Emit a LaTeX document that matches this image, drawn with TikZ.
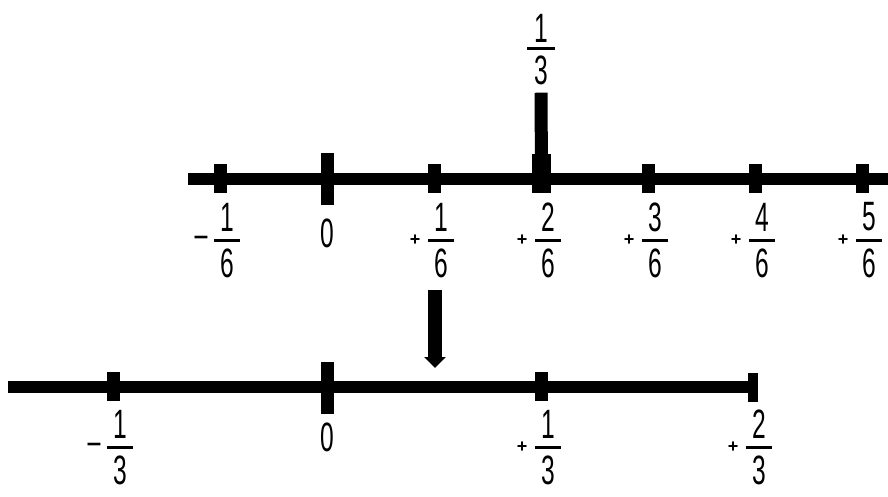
\documentclass[tikz,border=0pt]{standalone}
\usepackage{fontspec}
\setmainfont{Liberation Sans}[FakeStretch=0.6]
\newfontfamily\signfont{Liberation Sans}
\usetikzlibrary{arrows.meta}
\newcommand\fraclab[6]{% name, tick x, bar y, sign, num, den
  \node[digit] (#1n) at (#2+7,#3-23) {#5};
  \node[digit] (#1d) at (#2+7,#3+23) {#6};
  \draw[fbar] (#2-6,#3) -- (#2+20,#3);
  \node[sgn] (#1s) at (#2-19,#3) {#4};
}
\newcommand\mns{{\fontsize{26}{26}\selectfont –}}
\begin{document}
\begin{tikzpicture}[x=1pt,y=-1pt,
  digit/.style={inner sep=0pt, font=\fontsize{41}{41}\selectfont},
  sgn/.style={inner sep=0pt, font=\signfont\bfseries\fontsize{18}{18}\selectfont},
  axis/.style={line width=12pt},
  tickbox/.style={fill=black, inner sep=0pt, minimum width=13pt, minimum height=29pt},
  bigtick/.style={tickbox, minimum height=52pt},
  fbar/.style={line width=3pt}]
\useasboundingbox[fill=white] (0,0) rectangle (888,496);

% top number line
\coordinate (t0) at (188,179);
\coordinate (t1) at (888,179);
\draw[axis] (t0) -- (t1);
\node[tickbox] (ka) at (220,178.5) {};
\node[bigtick] (kb) at (327,179) {};
\node[tickbox] (kc) at (434,178.5) {};
\node[tickbox, minimum width=19pt, minimum height=39pt] (kd) at (541.5,173.5) {};
\node[tickbox] (ke) at (648,178.5) {};
\node[tickbox] (kf) at (755,178.5) {};
\node[tickbox] (kg) at (862,178.5) {};

\fraclab{ta}{220}{240}{\mns}{1}{6}
\node[digit] (tb) at (327,233) {0};
\fraclab{tc}{434}{240}{+}{1}{6}
\fraclab{td}{541}{240}{+}{2}{6}
\fraclab{te}{648}{240}{+}{3}{6}
\fraclab{tf}{755}{240}{+}{4}{6}
\fraclab{tg}{862}{240}{+}{5}{6}

% one third above
\node[digit] (qn) at (541,28) {1};
\node[digit] (qd) at (541,70) {3};
\draw[fbar] (527,48) -- (555,48);
\draw[line width=13pt] ([yshift=-8pt]qd.south) -- (kd.center);

% arrow down
\coordinate (atop) at (435,290);
\coordinate (atip) at (435,368);
\draw[line width=14pt, -{Triangle[length=11pt,width=21pt]}] (atop) -- (atip);

% bottom number line
\coordinate (b0) at (8,387);
\coordinate (b1) at (753,387);
\draw[axis] (b0) -- (b1);
\node[tickbox] (la) at (113,386.5) {};
\node[bigtick] (lb) at (327.5,387.5) {};
\node[tickbox] (lc) at (541.5,386.5) {};
\node[tickbox, minimum width=10pt] (ld) at (752.5,387.5) {};

\fraclab{ba}{113}{447}{\mns}{1}{3}
\node[digit] (bb) at (327,437) {0};
\fraclab{bc}{541}{447}{+}{1}{3}
\fraclab{bd}{752}{447}{+}{2}{3}
\end{tikzpicture}
\end{document}
